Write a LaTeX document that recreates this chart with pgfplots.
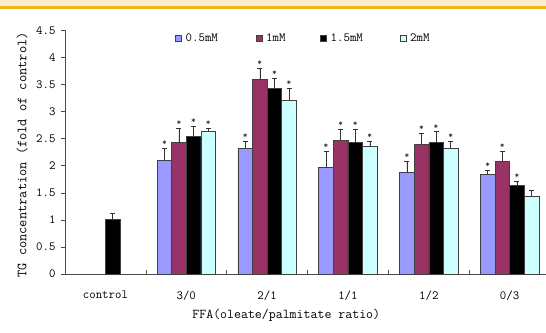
\documentclass[border=0pt]{standalone}
\usepackage{fontspec}
\usepackage{pgfplots}
\usepackage{pgfplotstable}
\pgfplotsset{compat=1.18}
\definecolor{cLav}{HTML}{9999FF}
\definecolor{cPlum}{HTML}{993366}
\definecolor{cCyan}{HTML}{CCFFFF}
\definecolor{bandCream}{HTML}{FCEBCC}
\definecolor{bandOrange}{HTML}{F1B31C}

\pgfplotstableread{
x y err star
1 2.10 0.22 *
2 2.32 0.14 *
3 1.97 0.30 *
4 1.88 0.20 *
5 1.84 0.08 *
}\dA
\pgfplotstableread{
x y err star
1 2.43 0.27 *
2 3.59 0.21 *
3 2.47 0.21 *
4 2.40 0.20 *
5 2.08 0.19 *
}\dB
\pgfplotstableread{
x y err star
0 1.01 0.11 {}
1 2.55 0.18 *
2 3.43 0.19 *
3 2.43 0.25 *
4 2.43 0.20 *
5 1.64 0.08 *
}\dC
\pgfplotstableread{
x y err star
1 2.64 0.05 *
2 3.22 0.21 *
3 2.36 0.10 *
4 2.32 0.14 *
5 1.44 0.10 {}
}\dD

\begin{document}
\begin{tikzpicture}
\path[use as bounding box] (0pt,0pt) rectangle (546pt,332pt);
\fill[bandCream] (0pt,326pt) rectangle (546pt,332pt);
\fill[bandOrange] (0pt,323pt) rectangle (546pt,326pt);
\begin{axis}[
  at={(65pt,58pt)}, anchor=south west,
  scale only axis, width=481pt, height=243.5pt,
  xmin=-0.5, xmax=5.45, ymin=0, ymax=4.5,
  ybar=0pt, bar width=14.6pt,
  axis x line*=bottom, axis y line*=left,
  axis line style={black!70, line width=0.6pt},
  /pgf/number format/assume math mode=true,
  tick align=outside,
  major tick length=4pt, minor tick length=4pt,
  ytick={0,0.5,...,4.5},
  yticklabel style={font=\ttfamily\fontsize{12.5}{13}\selectfont, /pgf/number format/fixed, xshift=-2pt},
  y tick style={black!70, line width=0.6pt},
  xtick={0,1,2,3,4,5},
  xticklabels={control,3/0,2/1,1/1,1/2,0/3},
  major x tick style={draw=none},
  minor xtick={0.5,1.5,2.5,3.5,4.5},
  minor x tick style={black!70, line width=0.6pt, yshift=4pt},
  xticklabel style={font=\ttfamily\fontsize{12.5}{13}\selectfont, yshift=-9pt},
  xlabel={FFA(oleate/palmitate ratio)},
  xlabel style={font=\ttfamily\fontsize{13.5}{14}\selectfont, at={(axis description cs:0.46,-0.168)}, anchor=center},
  ylabel={TG concentration (fold of control)},
  ylabel style={font=\ttfamily\fontsize{14}{15}\selectfont, at={(axis description cs:-0.0894,0.489)}, anchor=center},
  every axis plot/.append style={draw=black!75, line width=0.5pt},
  error bars/y dir=plus, error bars/y explicit,
  error bars/error bar style={black!80, line width=0.6pt},
  error bars/error mark options={rotate=90, mark size=2.5pt, black!80, line width=0.6pt},
  point meta=explicit symbolic,
  nodes near coords,
  visualization depends on={\thisrow{err}\as\myerr},
  every node near coord/.append style={anchor=center, shift={(axis direction cs:0,\myerr)}, yshift=5pt, font=\ttfamily\bfseries\fontsize{9}{9}\selectfont, inner sep=0pt, black!85},
  legend style={at={(axis description cs:0.2287,0.969)}, anchor=west, draw=none, fill=none,
    font=\ttfamily\fontsize{12.5}{13}\selectfont, legend columns=4, inner sep=0pt,
    /tikz/every odd column/.append style={column sep=2pt},
    /tikz/every even column/.append style={column sep=0pt}},
  legend image code/.code={\draw[#1, draw=black!75, line width=0.5pt] (0pt,-3pt) rectangle (6pt,3pt);},
]
\addplot[fill=cLav] table[x=x, y=y, y error=err, meta=star] {\dA};
\addplot[fill=cPlum] table[x=x, y=y, y error=err, meta=star] {\dB};
\addplot[fill=black] table[x=x, y=y, y error=err, meta=star] {\dC};
\addplot[fill=cCyan] table[x=x, y=y, y error=err, meta=star] {\dD};
\legend{\makebox[68pt][l]{0.5mM},\makebox[52pt][l]{1mM},\makebox[67pt][l]{1.5mM},2mM}
\end{axis}
\end{tikzpicture}
\end{document}
